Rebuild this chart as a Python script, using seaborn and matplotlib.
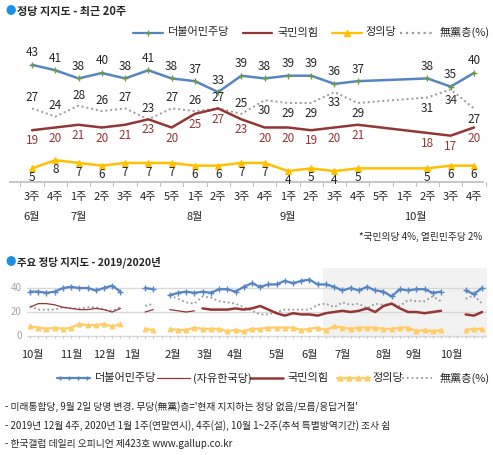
import numpy as np
import pandas as pd
import matplotlib
matplotlib.use("Agg")
import matplotlib.pyplot as plt
import seaborn as sns

sns.set_theme(style="white")
plt.rcParams['font.family'] = ['Noto Sans CJK KR', 'DejaVu Sans']

nan = np.nan
weeks = ["3주","4주","1주","2주","3주","4주","5주","1주","2주","3주","4주","1주","2주","3주","4주","5주","1주","2주","3주","4주"]
months = {0: "6월", 2: "7월", 7: "8월", 11: "9월", 16.5: "10월"}
dem = [43,41,38,40,38,41,38,37,33,39,38,39,39,36,37,nan,nan,38,35,40]
ppp = [19,20,21,20,21,23,20,25,27,23,20,20,19,20,21,nan,nan,18,17,20]
jus = [5,8,7,6,7,7,7,6,6,7,7,4,5,4,5,nan,nan,5,6,6]
non = [27,24,28,26,27,23,27,26,27,25,30,29,29,33,29,nan,nan,31,34,27]

# bottom chart (weekly Oct 2019 - Oct 2020)
dem_l = [37,37,36,37,40,41,40,40,38,40,42,37, nan,nan, 40,39, nan,
         34,36,37,36,37,36,39,39,37,41,44,41,43,43,46,44,46,47,43] + dem[:15] + [nan,nan] + [38,35,40]
lkp_l = [24,27,27,26,24,23,22,22,23,22,20,23, nan,nan, 20,22, nan,
         22,21,20,21] + [nan]*35
ppp_l = [nan]*21 + [23,22,22,22,23,22,23,25,22,19,17,19,18,18,17] + ppp[:15] + [nan,nan] + [18,17,20]
non_l = [25,22,22,22,24,23,23,24,24,22,21,24, nan,nan, 25,27, nan,
         34,31,28,27,33,32,29,28,27,24,21,18,18,20,22,22,22,22,26] + non[:15] + [nan,nan] + [31,34,27]
jus_l = [8,7,6,7,6,7,10,9,9,10,8,10, nan,nan, 6,5, nan,
         6,5,5,7,6,6,6,4,5,4,6,6,7,7,7,7,5,6,7] + jus[:15] + [nan,nan] + [5,6,6]
mlabels = ["10월","11월","12월","1월","2월","3월","4월","5월","6월","7월","8월","9월","10월"]
mpos = [0.3,5,9,12.4,17.4,21.3,25,30,34,38,43,46.7,51.2]

C_DEM = "#5585C5"; C_PPP = "#943634"; C_JUS = "#FFC000"; C_NON = "#9A9A9A"
W, H = 493, 455
fig = plt.figure(figsize=(W/100, H/100), dpi=100)
def ax_px(l, t, r, b):
    return fig.add_axes([l/W, 1-b/H, (r-l)/W, (b-t)/H])

fig.text(5/W, 1-11/H, "●", color="#1A8FE3", fontsize=7.5, va="center")
fig.text(17/W, 1-11/H, "정당 지지도 - 최근 20주", fontsize=8, va="center", fontweight="bold")
fig.text(5/W, 1-262/H, "●", color="#1A8FE3", fontsize=7.5, va="center")
fig.text(17/W, 1-262/H, "주요 정당 지지도 - 2019/2020년", fontsize=7.5, va="center", fontweight="bold")

# ---------- top chart
ax = ax_px(10, 55, 483, 182)
x = np.arange(20)
df = pd.DataFrame({"x": x, "dem": dem, "ppp": ppp, "jus": jus, "non": non})
def conn(col):
    return df[["x", col]].dropna()
d = conn("non"); sns.lineplot(x=d.x, y=d["non"], ax=ax, color=C_NON, ls=(0,(1,1.5)), lw=1.4)
d = conn("ppp"); sns.lineplot(x=d.x, y=d["ppp"], ax=ax, color=C_PPP, lw=1.8)
d = conn("jus"); sns.lineplot(x=d.x, y=d["jus"], ax=ax, color=C_JUS, lw=1.8, marker="^", ms=5, mec=C_JUS)
d = conn("dem"); sns.lineplot(x=d.x, y=d["dem"], ax=ax, color=C_DEM, lw=1.8, marker="+", ms=5, mec="#6E9A3C", mew=1)
ax.set_xlim(-0.95, 19.39); ax.set_ylim(0, 46.6)
ax.set_xticks([]); ax.set_yticks([]); ax.set_xlabel(""); ax.set_ylabel("")
for s in ["top", "right", "left"]:
    ax.spines[s].set_visible(False)
ax.spines["bottom"].set_color("#BFBFBF")
for i in range(21):
    ax.plot([i-0.5, i-0.5], [0, -1.3], color="#BFBFBF", lw=0.8, clip_on=False)
fs = 8.5
for i in range(20):
    if not np.isnan(dem[i]):
        ax.annotate(f"{dem[i]:.0f}", (i, dem[i]), xytext=(0, 4), textcoords="offset points", ha="center", va="bottom", fontsize=fs)
        ax.annotate(f"{ppp[i]:.0f}", (i, ppp[i]), xytext=(0, -3), textcoords="offset points", ha="center", va="top", fontsize=fs, color=C_PPP)
        ax.annotate(f"{jus[i]:.0f}", (i, jus[i]), xytext=(0, -2), textcoords="offset points", ha="center", va="top", fontsize=fs)
        if i < 10:
            ax.annotate(f"{non[i]:.0f}", (i, non[i]), xytext=(0, 3), textcoords="offset points", ha="center", va="bottom", fontsize=fs)
        else:
            ax.annotate(f"{non[i]:.0f}", (i, non[i]), xytext=(0, -3), textcoords="offset points", ha="center", va="top", fontsize=fs)
    ax.text(i, -5.5, weeks[i], ha="center", va="center", fontsize=8)
for p, m in months.items():
    ax.text(p, -12.8, m, ha="center", va="center", fontsize=8)
fig.text(482/W, 1-237/H, "*국민의당 4%, 열린민주당 2%", ha="right", va="center", fontsize=7)

# top legend
lx = [(133, 30, 168, "더불어민주당", C_DEM, "+", "-"), (243, 29, 277, "국민의힘", C_PPP, None, "-"),
      (332, 30, 365, "정의당", C_JUS, "^", "-"), (400, 33, 440, "無黨층(%)", C_NON, None, ":")]
lax = ax_px(0, 25, W, 40); lax.axis("off"); lax.set_xlim(0, W); lax.set_ylim(0, 1)
for (xr, wl, xt, lab, c, mk, ls) in lx:
    lax.plot([xr, xr+wl], [0.5, 0.5], color=c, ls=ls, lw=1.6)
    if mk:
        lax.plot([xr+wl/2], [0.5], marker=mk, color=c if mk == "^" else "#6E9A3C", ms=5)
    lax.text(xt, 0.5, lab, va="center", fontsize=8)

# ---------- bottom chart
bx = ax_px(27, 268, 487, 338)
n = len(dem_l)
xb = np.arange(n)
bx.axvspan(35.7, 56, color="#F2F2F2", lw=0)
for g in [0, 20, 40]:
    bx.axhline(g, color="#D9D9D9", lw=1)
    fig.text(22/W, 1-(336-g*1.2)/H, str(g), ha="right", va="center", fontsize=7, color="#A6A6A6")

def seg_df(vals):
    v = np.array(vals, dtype=float)
    seg = np.cumsum(np.isnan(v))
    d = pd.DataFrame({"x": xb, "y": v, "seg": seg}).dropna()
    return d

def segplot(vals, **kw):
    d = seg_df(vals)
    sns.lineplot(data=d, x="x", y="y", units="seg", estimator=None, ax=bx, **kw)

segplot(non_l, color=C_NON, ls=(0,(1,1.5)), lw=1.3)
segplot(lkp_l, color=C_PPP, lw=0.9)
segplot(ppp_l, color=C_PPP, lw=1.8)
segplot(jus_l, color="#FFCC66", lw=1.6, marker="^", ms=3.5, mec="#FFCC66")
segplot(dem_l, color=C_DEM, lw=1.6, marker="+", ms=4, mec=C_DEM, mew=1)
bx.set_xlim(-0.37, 55.6); bx.set_ylim(-1.67, 56.7)
bx.set_xticks([]); bx.set_yticks([]); bx.set_xlabel(""); bx.set_ylabel("")
for s in ["top", "right", "left", "bottom"]:
    bx.spines[s].set_visible(False)
for i in range(n):
    bx.plot([i, i], [0, -1.67], color="#BFBFBF", lw=0.6, clip_on=False)
for p, m in zip(mpos, mlabels):
    bx.text(p, -16, m, ha="center", va="center", fontsize=8)

lax2 = ax_px(0, 370, W, 386); lax2.axis("off"); lax2.set_xlim(0, W); lax2.set_ylim(0, 1)
items = [(57, 33, 95, "더불어민주당", C_DEM, "+", "-", 1.6), (157, 33, 193, "(자유한국당)", C_PPP, None, "-", 0.9),
         (250, 33, 287, "국민의힘", C_PPP, None, "-", 1.8), (337, 33, 372, "정의당", "#FFCC66", "^", "-", 1.6),
         (402, 30, 440, "無黨층(%)", C_NON, None, ":", 1.3)]
for (xr, wl, xt, lab, c, mk, ls, lw) in items:
    lax2.plot([xr, xr+wl], [0.5, 0.5], color=c, ls=ls, lw=lw)
    if mk:
        for q in np.linspace(xr+3, xr+wl-3, 4):
            lax2.plot([q], [0.5], marker=mk, color=c, ms=3.5)
    lax2.text(xt, 0.5, lab, va="center", fontsize=8)

notes = ["- 미래통합당, 9월 2일 당명 변경. 무당(無黨)층='현재 지지하는 정당 없음/모름/응답거절'",
         "- 2019년 12월 4주, 2020년 1월 1주(연말연시), 4주(설), 10월 1~2주(추석 특별방역기간) 조사 쉼",
         "- 한국갤럽 데일리 오피니언 제423호 www.gallup.co.kr"]
for k, t in enumerate(notes):
    fig.text(5/W, 1-(407+k*18.5)/H, t, fontsize=7, va="center")

fig.savefig("out.png", dpi=100)
